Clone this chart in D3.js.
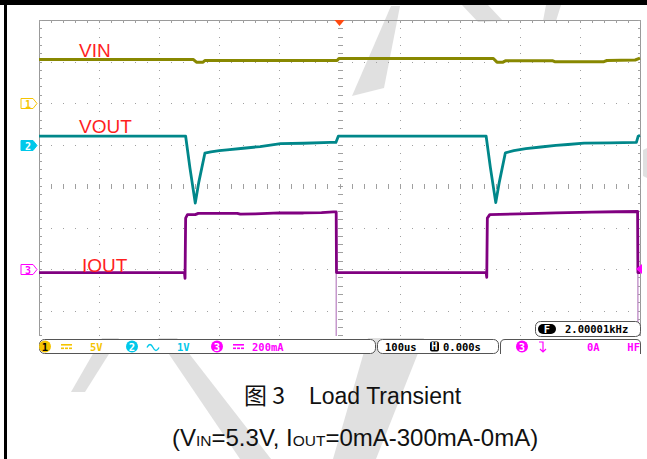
<!DOCTYPE html>
<html><head><meta charset="utf-8">
<script src="https://cdn.jsdelivr.net/npm/d3@7"></script>
<style>html,body{margin:0;padding:0;background:#fff;}svg{display:block}</style>
</head><body>
<svg id="c" width="647" height="459"></svg>
<script>
// ---------------- data ----------------
// time in microseconds relative to trigger (100 us/div)
const vinTimeUs  = [-500,-243,-238,-227,-224,-4,-1,256,262,272,276,355,358,440,445,492,500];
const vinVolts   = [5.24,5.24,4.92,4.92,5.12,5.12,5.36,5.36,4.92,4.92,5.08,5.08,4.98,4.98,5.12,5.18,5.40];

const voutTimeUs = [-500,-256,-249,-240,-234,-224,-214,-200,-187,-160,-132,-98,-60,-15,-6,-2,
                    244,251,260,266,276,290,310,335,360,380,407,450,494,497,500];
const voutVolts  = [0.20,0.20,-0.55,-1.41,-0.90,-0.21,-0.18,-0.15,-0.13,-0.09,-0.05,0.02,0.03,0.05,0.05,0.20,
                    0.20,-0.55,-1.40,-0.90,-0.20,-0.15,-0.10,-0.06,-0.02,0.00,0.035,0.04,0.05,0.20,0.22];

const ioutTimeUs = [-500,-258,-257,-256,-253,-240,-235,-170,-165,-140,-100,-60,-30,-10,-5.5,-5,
                    244,245,246,250,300,360,420,460,496,496.5,500];
const ioutMilliamps = [-17,-17,-45,245,262,262,268,268,264,266,270,270,272,275,275,-17,
                    -17,-40,245,262,266,270,274,276,277,-17,-17];
const ioutFallEdgesUs = [-5.5, 496.5];

const channelNames = ["VIN","VOUT","IOUT"];
const channelScaleLabels = ["5V","1V","200mA"];
const timebaseLabel = "100us";
const delayLabel = "0.000s";
const freqLabel = "2.00001kHz";
const triggerLevelLabel = "0A";
const captionTitleA = "图 3";
const captionTitleB = "Load Transient";

// ---------------- scales ----------------
const svg = d3.select("#c");
const L = 39, R = 640, T = 20, B = 336;
const x = d3.scaleLinear().domain([-500, 500]).range([L, R]);
const yDiv = d3.scaleLinear().domain([-4, 4]).range([352, 20]);
const ch = [
  {perDiv: 5,   offset: 2,  color: "#888800", mark: "#f5c400"},
  {perDiv: 1,   offset: 1,  color: "#00878a", mark: "#00c8ea"},
  {perDiv: 200, offset: -2, color: "#800080", mark: "#ff00ff"}
];
const yCh = (i, v) => yDiv(ch[i].offset + v / ch[i].perDiv);

// ---------------- watermark (light logo strokes) ----------------
const wm = svg.append("g").attr("fill","#e0e0e0");
[
  "M391,6L400,6L384,88L352,96Z",
  "M462,5L488,5L503,21L478,22Z",
  "M546,5L561,5L556,21L543,21Z",
  "M643,150L647,148L647,178L643,176Z",
  "M102,338L119,338L85,392L71,392Z",
  "M158,338L177,338L271,459L240,459Z",
  "M368,338L424,338L376,459L333,459Z"
].forEach(d => wm.append("path").attr("d", d));

// frame
svg.append("rect").attr("x",0).attr("y",0).attr("width",647).attr("height",5).attr("fill","#000");
svg.append("rect").attr("x",4).attr("y",0).attr("width",3).attr("height",459).attr("fill","#000");

// ---------------- graticule ----------------
const g = svg.append("g");
const gridCol = "#a0a0a0";
g.append("path").attr("d",`M${L+0.5},${B}V${T+0.5}H${R+0.5}V${B}`).attr("fill","none").attr("stroke","#9a9a9a").attr("stroke-width",1);
const minorT = d3.range(-500, 500.01, 20);
const minorD = d3.range(-4, 4.001, 0.2).filter(d => yDiv(d) <= B && yDiv(d) >= T);
minorT.forEach(t => { g.append("rect").attr("x",Math.round(x(t))).attr("y",T).attr("width",1).attr("height",3).attr("fill",gridCol); });
minorD.forEach(d => {
  g.append("rect").attr("x",L).attr("y",Math.round(yDiv(d))).attr("width",3).attr("height",1).attr("fill",gridCol);
  g.append("rect").attr("x",R-2).attr("y",Math.round(yDiv(d))).attr("width",3).attr("height",1).attr("fill",gridCol);
});
d3.range(-400, 401, 100).filter(t => t !== 0).forEach(t => {
  minorD.forEach(d => g.append("rect").attr("x",Math.round(x(t))).attr("y",Math.round(yDiv(d))).attr("width",1).attr("height",1).attr("fill",gridCol));
});
d3.range(-3, 4, 1).filter(d => d !== 0).forEach(d => {
  minorT.forEach(t => g.append("rect").attr("x",Math.round(x(t))).attr("y",Math.round(yDiv(d))).attr("width",1).attr("height",1).attr("fill",gridCol));
});
minorT.forEach(t => g.append("rect").attr("x",Math.round(x(t))).attr("y",Math.round(yDiv(0))-2).attr("width",1).attr("height",5).attr("fill",gridCol));
minorD.forEach(d => g.append("rect").attr("x",Math.round(x(0))-2).attr("y",Math.round(yDiv(d))).attr("width",5).attr("height",1).attr("fill",gridCol));

// ---------------- traces ----------------
svg.append("clipPath").attr("id","pc").append("rect").attr("x",L).attr("y",T).attr("width",R-L+2).attr("height",B-T);
const tr = svg.append("g").attr("clip-path","url(#pc)");
const mk = (ts, vs) => ts.map((t, k) => ({t, v: vs[k]}));
const line = i => d3.line().x(d => x(d.t)).y(d => yCh(i, d.v));

ioutFallEdgesUs.forEach(t => {
  tr.append("line").attr("x1",x(t)).attr("x2",x(t)).attr("y1",yCh(2, 270)).attr("y2",B)
    .attr("stroke","#b77fc0").attr("stroke-width",1.2);
});
tr.append("path").datum(mk(vinTimeUs, vinVolts)).attr("d", line(0)).attr("fill","none")
  .attr("stroke", ch[0].color).attr("stroke-width",3).attr("stroke-linejoin","round");
tr.append("path").datum(mk(voutTimeUs, voutVolts)).attr("d", line(1)).attr("fill","none")
  .attr("stroke", ch[1].color).attr("stroke-width",2.8).attr("stroke-linejoin","round");
tr.append("path").datum(mk(ioutTimeUs, ioutMilliamps)).attr("d", line(2)).attr("fill","none")
  .attr("stroke", ch[2].color).attr("stroke-width",2.8).attr("stroke-linejoin","round");

// ---------------- trace labels ----------------
const labelX = [79, 79, 82];
const labelY = [57, 133, 272];
channelNames.forEach((n, k) => {
  svg.append("text").attr("x", labelX[k]).attr("y", labelY[k]).text(n)
    .attr("font-family","Liberation Sans, Arial, sans-serif").attr("font-size",19).attr("fill","#ff1f1f");
});

// ---------------- channel markers ----------------
ch.forEach((c, i) => {
  const cy = Math.round(yDiv(c.offset)) + 0.5;
  const p = `M21,${cy-5}H33L37,${cy}L33,${cy+5}H21Z`;
  svg.append("path").attr("d", p).attr("fill", i === 1 ? c.mark : "#fff").attr("stroke", c.mark).attr("stroke-width",1);
  svg.append("text").attr("x",28).attr("y",cy+4).attr("text-anchor","middle").text(i+1)
    .attr("font-family","DejaVu Sans Mono, monospace").attr("font-weight","bold").attr("font-size",10)
    .attr("fill", i === 1 ? "#fff" : c.mark);
});
svg.append("path").attr("d",`M${x(0)-5},${T}H${x(0)+5}L${x(0)},${T+6}Z`).attr("fill","#ff4a10");
const tl = yCh(2, 0);
svg.append("path").attr("d",`M${R+2},${tl-5}V${tl+5}L${R-4},${tl}Z`).attr("fill","#ff00ff");

// ---------------- status bar ----------------
const mono = "DejaVu Sans Mono, monospace";
const sb = svg.append("g");
const txt = (xx, yy, s, col, anchor) => sb.append("text").attr("x",xx).attr("y",yy).text(s)
  .attr("font-family",mono).attr("font-weight","bold").attr("font-size",10.5).attr("fill",col)
  .attr("text-anchor", anchor || "start");
sb.append("rect").attr("x",39.5).attr("y",339.5).attr("width",336).attr("height",14).attr("rx",5).attr("fill","#fff").attr("stroke","#555");
sb.append("rect").attr("x",377.5).attr("y",339.5).attr("width",121).attr("height",14).attr("rx",5).attr("fill","#fff").attr("stroke","#555");
sb.append("path").attr("d","M500.5,354V344Q500.5,339.5 505,339.5H636Q640.5,339.5 640.5,344V354").attr("fill","#fff").attr("stroke","#555");
const circ = (cx, col, n, tc) => {
  sb.append("circle").attr("cx",cx).attr("cy",346.5).attr("r",6).attr("fill",col);
  txt(cx, 350.5, n, tc, "middle");
};
const dcSym = (x0, col) => {
  sb.append("rect").attr("x",x0).attr("y",344).attr("width",11).attr("height",1.6).attr("fill",col);
  [0,4,8].forEach(o => sb.append("rect").attr("x",x0+o).attr("y",347.5).attr("width",3).attr("height",1.6).attr("fill",col));
};
circ(45, ch[0].mark, "1", "#000"); dcSym(61, ch[0].mark); txt(90, 350.5, channelScaleLabels[0], ch[0].mark);
circ(132, ch[1].mark, "2", "#fff");
sb.append("path").attr("d","M147,347.5 q3,-6 6,0 t6,0").attr("fill","none").attr("stroke",ch[1].mark).attr("stroke-width",1.4);
txt(177, 350.5, channelScaleLabels[1], ch[1].mark);
circ(217, ch[2].mark, "3", "#fff"); dcSym(233, ch[2].mark); txt(252, 350.5, channelScaleLabels[2], ch[2].mark);
txt(385, 350.5, timebaseLabel, "#000");
sb.append("rect").attr("x",430).attr("y",341.5).attr("width",9).attr("height",10).attr("rx",2).attr("fill","#000");
txt(434.5, 350, "H", "#fff", "middle");
txt(443, 350.5, delayLabel, "#000");
circ(522, ch[2].mark, "3", "#fff");
sb.append("path").attr("d","M539,342H543V352M540,349L543,352L546,349").attr("fill","none").attr("stroke",ch[2].mark).attr("stroke-width",1.2);
txt(587, 350.5, triggerLevelLabel, ch[2].mark);
txt(640, 350.5, "HF", ch[2].mark, "end");
sb.append("rect").attr("x",535.5).attr("y",321.5).attr("width",105).attr("height",15).attr("rx",5).attr("fill","#fff").attr("stroke","#555");
sb.append("rect").attr("x",538).attr("y",324).attr("width",18).attr("height",10).attr("rx",5).attr("fill","#000");
txt(547, 332.5, "F", "#fff", "middle");
txt(565, 333, freqLabel, "#000");

// ---------------- caption ----------------
const cf = "Liberation Sans, Arial, sans-serif";
svg.append("text").attr("x",244).attr("y",404).text(captionTitleA).attr("font-family","Noto Sans CJK SC, "+cf).attr("font-size",23).attr("fill","#111");
svg.append("text").attr("x",309).attr("y",404).text(captionTitleB).attr("font-family",cf).attr("font-size",23).attr("fill","#111");
const c2 = svg.append("text").attr("x",172).attr("y",446).attr("font-family",cf).attr("font-size",24).attr("fill","#111");
c2.append("tspan").text("(V");
c2.append("tspan").attr("font-size",15.5).text("IN");
c2.append("tspan").text("=5.3V, I");
c2.append("tspan").attr("font-size",15.5).text("OUT");
c2.append("tspan").text("=0mA-300mA-0mA)");
</script>
</body></html>
